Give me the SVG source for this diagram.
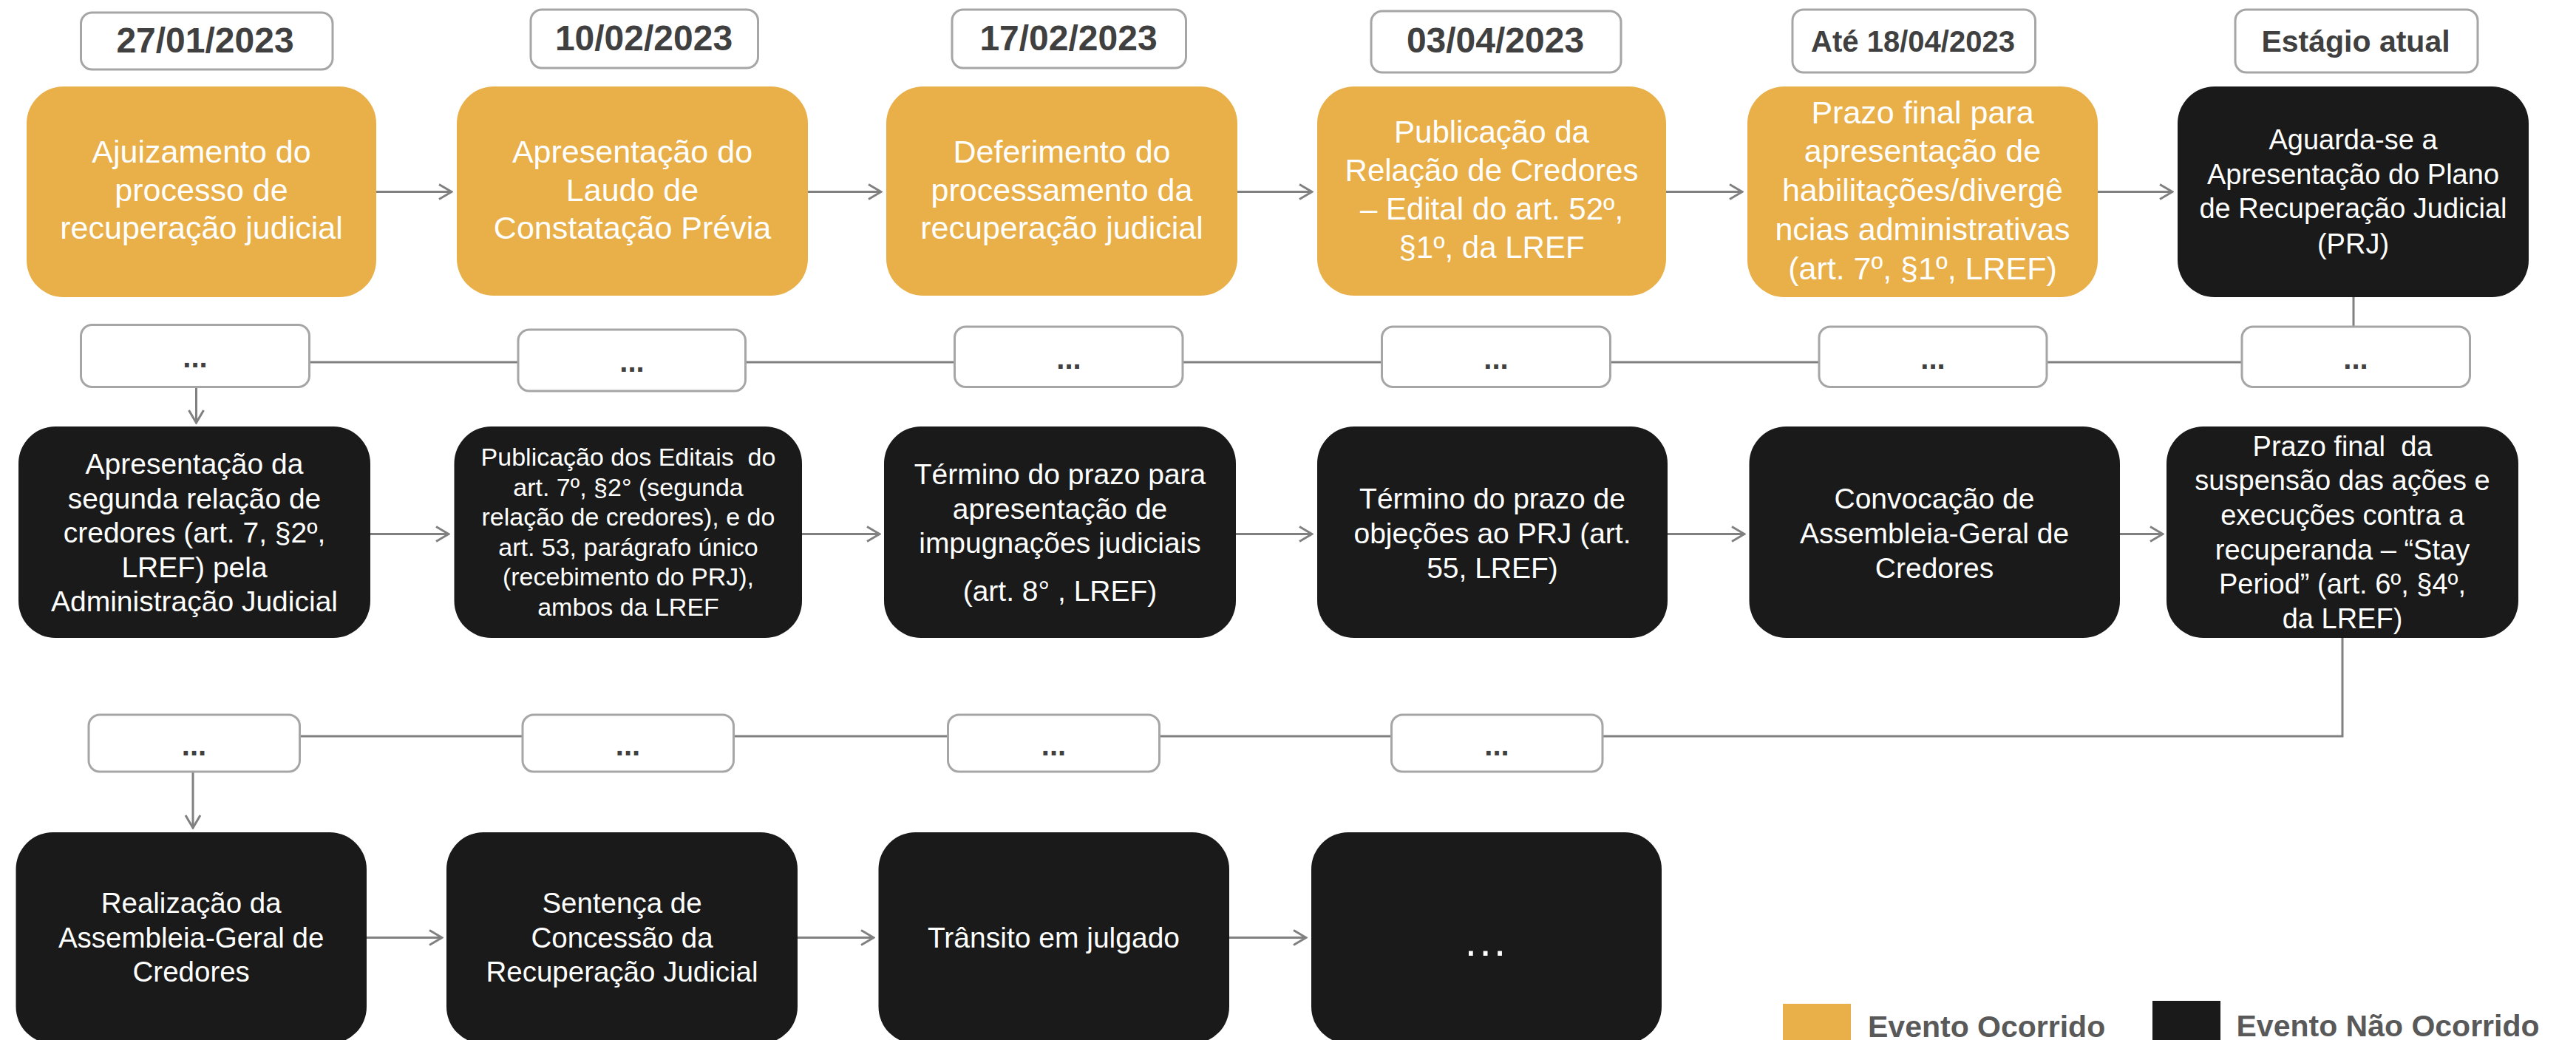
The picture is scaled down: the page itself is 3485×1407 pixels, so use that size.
<svg xmlns="http://www.w3.org/2000/svg" width="3485" height="1407" viewBox="0 0 3485 1407">
<style>
.o{fill:#E9B04A}
.k{fill:#1A1A1A}
.d{fill:#fff;stroke:#A6A6A6;stroke-width:3}
.t{font-family:"Liberation Sans",Arial,sans-serif;fill:#fff;text-anchor:middle;white-space:pre}
.dt{font-family:"Liberation Sans",Arial,sans-serif;font-weight:bold;fill:#404040;text-anchor:middle}
.lg{font-family:"Liberation Sans",Arial,sans-serif;font-weight:bold;fill:#595959}
.c{stroke:#808080;stroke-width:3;fill:none}
.a{marker-end:url(#arr)}
</style>
<defs>
<marker id="arr" markerUnits="userSpaceOnUse" markerWidth="22" markerHeight="26" viewBox="0 0 22 26" refX="20" refY="13" orient="auto">
<path d="M3,3 L20,13 L3,23" fill="none" stroke="#808080" stroke-width="3"/>
</marker>
</defs>
<rect width="3485" height="1407" fill="#fff"/>

<g id="connectors">
<line class="c a" x1="509" y1="259.5" x2="611" y2="259.5"/>
<line class="c a" x1="1093" y1="259.5" x2="1192" y2="259.5"/>
<line class="c a" x1="1674" y1="259.5" x2="1775" y2="259.5"/>
<line class="c a" x1="2254" y1="259.5" x2="2357" y2="259.5"/>
<line class="c a" x1="2838" y1="259.5" x2="2939" y2="259.5"/>
<polyline class="c" points="3184,402 3184,442"/>
<line class="c" x1="419" y1="490" x2="3033" y2="490"/>
<line class="c a" x1="265.5" y1="523" x2="265.5" y2="572"/>
<line class="c a" x1="501" y1="722.5" x2="607" y2="722.5"/>
<line class="c a" x1="1085" y1="722.5" x2="1190" y2="722.5"/>
<line class="c a" x1="1672" y1="722.5" x2="1775" y2="722.5"/>
<line class="c a" x1="2256" y1="722.5" x2="2360" y2="722.5"/>
<line class="c a" x1="2868" y1="722.5" x2="2926" y2="722.5"/>
<polyline class="c" points="3169,863 3169,996 405,996"/>
<line class="c a" x1="261" y1="1044" x2="261" y2="1120"/>
<line class="c a" x1="496" y1="1268.5" x2="598" y2="1268.5"/>
<line class="c a" x1="1079" y1="1268.5" x2="1182" y2="1268.5"/>
<line class="c a" x1="1663" y1="1268.5" x2="1767" y2="1268.5"/>
</g>

<g id="date1"><rect class="d" x="109.5" y="17" width="340.5" height="77" rx="15"/><text class="dt" x="277.5" y="70.5" font-size="48">27/01/2023</text></g>
<g id="date2"><rect class="d" x="718" y="13" width="307.5" height="79" rx="15"/><text class="dt" x="871" y="67.5" font-size="48">10/02/2023</text></g>
<g id="date3"><rect class="d" x="1288" y="13" width="316.5" height="79" rx="15"/><text class="dt" x="1445.5" y="67.5" font-size="48">17/02/2023</text></g>
<g id="date4"><rect class="d" x="1855" y="15" width="338" height="83" rx="15"/><text class="dt" x="2023" y="71" font-size="48">03/04/2023</text></g>
<g id="date5"><rect class="d" x="2425" y="13" width="328.5" height="85" rx="15"/><text class="dt" x="2588" y="69.5" font-size="40">Até 18/04/2023</text></g>
<g id="date6"><rect class="d" x="3024" y="13" width="328" height="85" rx="15"/><text class="dt" x="3187" y="70" font-size="41">Estágio atual</text></g>

<g id="n1"><rect class="o" x="36" y="117" width="473" height="285" rx="50"/>
<text class="t" font-size="43"><tspan x="272.5" y="220">Ajuizamento do</tspan><tspan x="272.5" y="272">processo de</tspan><tspan x="272.5" y="323">recuperação judicial</tspan></text></g>
<g id="n2"><rect class="o" x="618" y="117" width="475" height="283" rx="50"/>
<text class="t" font-size="43"><tspan x="855.5" y="220">Apresentação do</tspan><tspan x="855.5" y="272">Laudo de</tspan><tspan x="855.5" y="323">Constatação Prévia</tspan></text></g>
<g id="n3"><rect class="o" x="1199" y="117" width="475" height="283" rx="50"/>
<text class="t" font-size="43"><tspan x="1436.5" y="220">Deferimento do</tspan><tspan x="1436.5" y="272">processamento da</tspan><tspan x="1436.5" y="323">recuperação judicial</tspan></text></g>
<g id="n4"><rect class="o" x="1782" y="117" width="472" height="283" rx="50"/>
<text class="t" font-size="42"><tspan x="2018" y="193">Publicação da</tspan><tspan x="2018" y="245">Relação de Credores</tspan><tspan x="2018" y="297">– Edital do art. 52º,</tspan><tspan x="2018" y="349">§1º, da LREF</tspan></text></g>
<g id="n5"><rect class="o" x="2364" y="117" width="474" height="285" rx="50"/>
<text class="t" font-size="43"><tspan x="2601" y="167">Prazo final para</tspan><tspan x="2601" y="219">apresentação de</tspan><tspan x="2601" y="272">habilitações/divergê</tspan><tspan x="2601" y="325">ncias administrativas</tspan><tspan x="2601" y="378">(art. 7º, §1º, LREF)</tspan></text></g>
<g id="n6"><rect class="k" x="2946" y="117" width="475" height="285" rx="50"/>
<text class="t" font-size="38"><tspan x="3183.5" y="202">Aguarda-se a</tspan><tspan x="3183.5" y="248.5">Apresentação do Plano</tspan><tspan x="3183.5" y="295">de Recuperação Judicial</tspan><tspan x="3183.5" y="343">(PRJ)</tspan></text></g>

<g id="dots1"><rect class="d" x="109.5" y="439.5" width="309" height="84" rx="15"/><text class="dt" x="264" y="497" font-size="40">...</text></g>
<g id="dots2"><rect class="d" x="701" y="446" width="307.5" height="83" rx="15"/><text class="dt" x="855" y="503" font-size="40">...</text></g>
<g id="dots3"><rect class="d" x="1291.5" y="442" width="308.5" height="81.5" rx="15"/><text class="dt" x="1446" y="499" font-size="40">...</text></g>
<g id="dots4"><rect class="d" x="1869.5" y="442" width="309" height="81.5" rx="15"/><text class="dt" x="2024" y="499" font-size="40">...</text></g>
<g id="dots5"><rect class="d" x="2461" y="442" width="308" height="81.5" rx="15"/><text class="dt" x="2615" y="499" font-size="40">...</text></g>
<g id="dots6"><rect class="d" x="3033" y="442" width="308.5" height="81.5" rx="15"/><text class="dt" x="3187" y="499" font-size="40">...</text></g>

<g id="n7"><rect class="k" x="25" y="577" width="476" height="286" rx="50"/>
<text class="t" font-size="39"><tspan x="263" y="641">Apresentação da</tspan><tspan x="263" y="687.5">segunda relação de</tspan><tspan x="263" y="734">credores (art. 7, §2º,</tspan><tspan x="263" y="780.5">LREF) pela</tspan><tspan x="263" y="827">Administração Judicial</tspan></text></g>
<g id="n8"><rect class="k" x="614.5" y="577" width="470.5" height="286" rx="50"/>
<text class="t" font-size="34"><tspan x="850" y="630">Publicação dos Editais  do</tspan><tspan x="850" y="670.6">art. 7º, §2° (segunda</tspan><tspan x="850" y="711.2">relação de credores), e do</tspan><tspan x="850" y="751.8">art. 53, parágrafo único</tspan><tspan x="850" y="792.4">(recebimento do PRJ),</tspan><tspan x="850" y="833">ambos da LREF</tspan></text></g>
<g id="n9"><rect class="k" x="1196" y="577" width="476" height="286" rx="50"/>
<text class="t" font-size="39"><tspan x="1434" y="655">Término do prazo para</tspan><tspan x="1434" y="701.7">apresentação de</tspan><tspan x="1434" y="748.3">impugnações judiciais</tspan><tspan x="1434" y="813.3">(art. 8° , LREF)</tspan></text></g>
<g id="n10"><rect class="k" x="1782" y="577" width="474" height="286" rx="50"/>
<text class="t" font-size="39"><tspan x="2019" y="688.3">Término do prazo de</tspan><tspan x="2019" y="735">objeções ao PRJ (art.</tspan><tspan x="2019" y="781.7">55, LREF)</tspan></text></g>
<g id="n11"><rect class="k" x="2366.5" y="577" width="501.5" height="286" rx="50"/>
<text class="t" font-size="39"><tspan x="2617" y="688.3">Convocação de</tspan><tspan x="2617" y="735">Assembleia-Geral de</tspan><tspan x="2617" y="781.7">Credores</tspan></text></g>
<g id="n12"><rect class="k" x="2931" y="577" width="476" height="286" rx="50"/>
<text class="t" font-size="38"><tspan x="3169" y="616.7">Prazo final  da</tspan><tspan x="3169" y="663.3">suspensão das ações e</tspan><tspan x="3169" y="710">execuções contra a</tspan><tspan x="3169" y="756.7">recuperanda – “Stay</tspan><tspan x="3169" y="803.3">Period” (art. 6º, §4º,</tspan><tspan x="3169" y="850">da LREF)</tspan></text></g>

<g id="dots7"><rect class="d" x="120" y="967" width="285.5" height="77" rx="15"/><text class="dt" x="262.5" y="1021.5" font-size="40">...</text></g>
<g id="dots8"><rect class="d" x="707" y="967" width="285.5" height="77" rx="15"/><text class="dt" x="849.5" y="1021.5" font-size="40">...</text></g>
<g id="dots9"><rect class="d" x="1282.5" y="967" width="286" height="77" rx="15"/><text class="dt" x="1425.5" y="1021.5" font-size="40">...</text></g>
<g id="dots10"><rect class="d" x="1882.5" y="967" width="285.5" height="77" rx="15"/><text class="dt" x="2025" y="1021.5" font-size="40">...</text></g>

<g id="n13"><rect class="k" x="21.5" y="1126" width="474.5" height="286" rx="50"/>
<text class="t" font-size="38.5"><tspan x="258.7" y="1235">Realização da</tspan><tspan x="258.7" y="1281.7">Assembleia-Geral de</tspan><tspan x="258.7" y="1328.3">Credores</tspan></text></g>
<g id="n14"><rect class="k" x="604" y="1126" width="475" height="286" rx="50"/>
<text class="t" font-size="38.5"><tspan x="841.5" y="1235">Sentença de</tspan><tspan x="841.5" y="1281.7">Concessão da</tspan><tspan x="841.5" y="1328.3">Recuperação Judicial</tspan></text></g>
<g id="n15"><rect class="k" x="1188.5" y="1126" width="474.5" height="286" rx="50"/>
<text class="t" font-size="39"><tspan x="1425.5" y="1281.7">Trânsito em julgado</tspan></text></g>
<g id="n16"><rect class="k" x="1774" y="1126" width="474" height="286" rx="50"/>
<text class="t" x="2011" y="1293" font-size="60" letter-spacing="3">...</text></g>

<g id="legend">
<rect class="o" x="2412" y="1358" width="92" height="49"/>
<text class="lg" x="2527" y="1403" font-size="41">Evento Ocorrido</text>
<rect class="k" x="2912" y="1354" width="92" height="53"/>
<text class="lg" x="3025.5" y="1402" font-size="41">Evento Não Ocorrido</text>
</g>
</svg>
